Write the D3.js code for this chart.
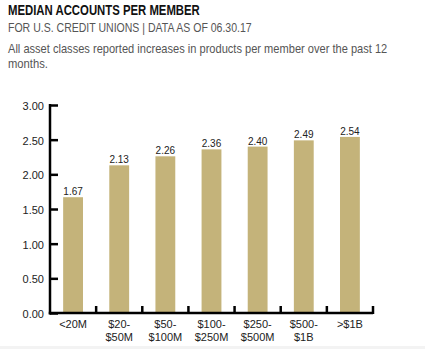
<!DOCTYPE html>
<html><head><meta charset="utf-8">
<script src="https://cdn.jsdelivr.net/npm/d3@7"></script>
<style>body{margin:0;background:#fff}</style>
</head><body>
<svg id="c" width="425" height="349"></svg>
<script>
const categories = ["<20M", "$20-|$50M", "$50-|$100M", "$100-|$250M", "$250-|$500M", "$500-|$1B", ">$1B"];
const values = [1.67, 2.13, 2.26, 2.36, 2.40, 2.49, 2.54];
const yTicks = [0, 0.5, 1, 1.5, 2, 2.5, 3];

const svg = d3.select("#c");
const sans = "'Liberation Sans',Arial,sans-serif";

svg.append("rect").attr("x", 0).attr("y", 346).attr("width", 425).attr("height", 3).attr("fill", "#f3f3f3");

function fitText(txt, x, yy, size, len, weight, fill) {
  const t = svg.append("text").attr("x", 0).attr("y", 0).text(txt)
    .attr("font-family", sans).attr("font-weight", weight).attr("font-size", size).attr("fill", fill);
  const w = t.node().getComputedTextLength();
  t.attr("transform", `translate(${x},${yy}) scale(${Math.min(1, len / w)},1)`);
}
fitText("MEDIAN ACCOUNTS PER MEMBER", 8, 15, 14, 192, "bold", "#111");
fitText("FOR U.S. CREDIT UNIONS | DATA AS OF 06.30.17", 8, 32, 12.5, 244, "normal", "#555");
fitText("All asset classes reported increases in products per member over the past 12", 8, 53, 12.5, 380, "normal", "#555");
fitText("months.", 8, 68, 12.5, 40, "normal", "#555");

const x = d3.scaleBand().domain(categories).range([50, 373]).paddingInner(0.57).paddingOuter(0.285);
const y = d3.scaleLinear().domain([0, 3]).range([313, 105]);

svg.selectAll("rect.bar").data(values).enter().append("rect")
  .attr("x", (d, i) => x(categories[i])).attr("width", x.bandwidth())
  .attr("y", d => y(d)).attr("height", d => y(0) - y(d)).attr("fill", "#c4b37a");

svg.selectAll("text.val").data(values).enter().append("text")
  .attr("x", (d, i) => x(categories[i]) + x.bandwidth() / 2).attr("y", d => y(d) - 2)
  .attr("text-anchor", "middle").attr("font-family", sans).attr("font-size", 10).attr("fill", "#222")
  .text(d => d.toFixed(2));

// y axis
const yAxis = svg.append("g").attr("transform", "translate(50,0)")
  .call(d3.axisRight(y).tickValues(yTicks).tickSize(8).tickFormat(""));
yAxis.select(".domain").remove();
yAxis.selectAll("line").attr("stroke", "#000").attr("stroke-width", 2.5);
svg.append("line").attr("x1", 50).attr("x2", 50).attr("y1", 104).attr("y2", 314.5).attr("stroke", "#000").attr("stroke-width", 2.5);
svg.selectAll("text.yl").data(yTicks).enter().append("text")
  .attr("x", 44).attr("y", d => y(d) + 5).attr("text-anchor", "end")
  .attr("font-family", sans).attr("font-size", 11).attr("fill", "#222").text(d => d.toFixed(2));

// x axis
const bounds = categories.map(c => x(c) + x.bandwidth() + x.step() * x.paddingInner() / 2);
svg.append("line").attr("x1", 48.75).attr("x2", 373).attr("y1", 313).attr("y2", 313).attr("stroke", "#000").attr("stroke-width", 2.5);
svg.selectAll("line.xt").data(bounds).enter().append("line")
  .attr("x1", d => d).attr("x2", d => d).attr("y1", 314).attr("y2", 306).attr("stroke", "#000").attr("stroke-width", 2.5);

categories.forEach(c => {
  const lines = c.split("|");
  const t = svg.append("text").attr("text-anchor", "middle").attr("font-family", sans).attr("font-size", 11).attr("fill", "#222");
  lines.forEach((l, i) => t.append("tspan").attr("x", x(c) + x.bandwidth() / 2).attr("y", 328 + i * 13).text(l));
});
</script>
</body></html>
